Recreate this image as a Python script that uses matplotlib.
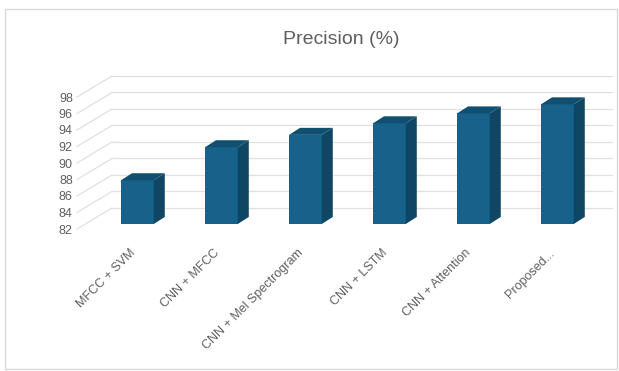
import matplotlib
matplotlib.use("Agg")
import matplotlib.pyplot as plt
from matplotlib.patches import Rectangle

plt.rcParams["font.family"] = ["Liberation Sans", "DejaVu Sans"]

methods = ["MFCC + SVM", "CNN + MFCC", "CNN + Mel Spectrogram",
           "CNN + LSTM", "CNN + Attention", "Proposed..."]
precision = [87.3, 91.3, 92.8, 94.2, 95.4, 96.5]
y_ticks = [82, 84, 86, 88, 90, 92, 94, 96, 98]

W, H = 619, 371
Y_MIN, Y_MAX = 82, 98

# fake 3D: offset from front plane to back wall, in data units
WALL_DX, WALL_DY = 0.417, 2.55
BAR_DX, BAR_DY = 0.10, 0.61      # front face of the bars
DEPTH_DX, DEPTH_DY = 0.131, 0.85  # bar depth
BAR_W = 0.39

FRONT = "#17628a"
SIDE = "#0e4663"
TOP = "#114f70"
GRID = "#e0e0e0"
TXT = "#5f5f5f"

fig = plt.figure(figsize=(W / 100, H / 100), dpi=100)
# axes = front plane of the floor/left wall
left, right, bottom, top = 77, 577, 229, 97
ax = fig.add_axes([left / W, 1 - bottom / H, (right - left) / W, (bottom - top) / H])
x0 = -(129 - left) / 84
x1 = x0 + (right - left) / 84
ax.set_xlim(x0, x1)
ax.set_ylim(Y_MIN, Y_MAX)

# frame around the chart
fig.patches.append(Rectangle((5 / W, 1 - 369 / H), 612 / W, 360 / H,
                             transform=fig.transFigure, fill=False,
                             edgecolor="#d9d9d9", linewidth=1))

# gridlines: side wall diagonals + back wall horizontals
for v in y_ticks:
    ax.plot([x0, x0 + WALL_DX], [v, v + WALL_DY], color=GRID, lw=0.9,
            clip_on=False, zorder=1)
    ax.plot([x0 + WALL_DX, x1 + WALL_DX], [v + WALL_DY, v + WALL_DY],
            color=GRID, lw=0.9, clip_on=False, zorder=1)

# bars
for i, v in enumerate(precision):
    xl = i + BAR_DX - BAR_W / 2
    xr = xl + BAR_W
    yb = Y_MIN + BAR_DY
    yt = v + BAR_DY
    ax.bar(i + BAR_DX, v - Y_MIN, bottom=yb, width=BAR_W, color=FRONT,
           edgecolor="none", zorder=3, clip_on=False)
    ax.fill([xr, xr, xr + DEPTH_DX, xr + DEPTH_DX],
            [yb, yt, yt + DEPTH_DY, yb + DEPTH_DY],
            color=SIDE, lw=0, zorder=3, clip_on=False)
    ax.fill([xl, xr, xr + DEPTH_DX, xl + DEPTH_DX],
            [yt, yt, yt + DEPTH_DY, yt + DEPTH_DY],
            color=TOP, lw=0, zorder=3, clip_on=False)

ax.set_yticks(y_ticks)
ax.set_yticklabels([str(t) for t in y_ticks])
ax.set_xticks(range(len(methods)))
ax.set_xticklabels(methods, rotation=45, ha="right", rotation_mode="anchor")
ax.tick_params(axis="y", length=0, pad=3, labelsize=9, labelcolor=TXT)
ax.tick_params(axis="x", length=0, pad=13, labelsize=9, labelcolor=TXT)
for s in ax.spines.values():
    s.set_visible(False)
ax.patch.set_visible(False)

fig.text(341 / W, 1 - 40 / H, "Precision (%)", ha="center", va="center",
         fontsize=14, color=TXT)

fig.savefig("out.png", dpi=100)
